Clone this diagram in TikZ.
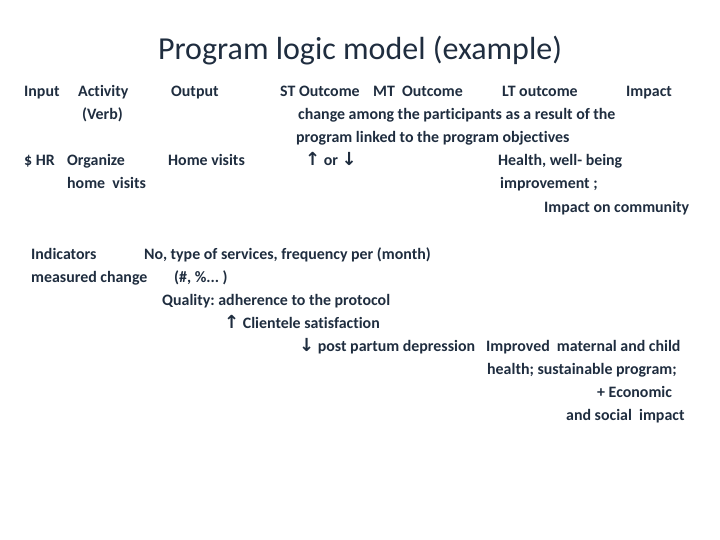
\documentclass[tikz,border=0pt]{standalone}
\usepackage{fontspec}
\setmainfont{Carlito}[Ligatures={NoCommon}]
\newfontfamily\arrowfont{DejaVu Sans}
\definecolor{ink}{HTML}{1F2D3F}
\newcommand{\upar}{{\arrowfont\fontsize{18}{18}\selectfont\bfseries ↑}}
\newcommand{\dnar}{{\arrowfont\fontsize{18}{18}\selectfont\bfseries ↓}}
\frenchspacing
\begin{document}
\begin{tikzpicture}[x=1pt,y=-1pt,
  txt/.style={anchor=base west,inner sep=0pt,text=ink,font=\fontsize{15.9}{18}\selectfont\bfseries\frenchspacing},
  ttl/.style={anchor=base,inner sep=0pt,text=ink,font=\fontsize{32}{38}\selectfont}]
\useasboundingbox (0,0) rectangle (720,540);
\node[ttl] (title) at (360,60) {Program logic model (example)};
% line 1
\node[txt] (input) at (24,97) {Input};
\node[txt] (activity) at (78,97) {Activity};
\node[txt] (output) at (171,97) {Output};
\node[txt] (st) at (280,97) {ST Outcome};
\node[txt] (mt) at (373,97) {MT\ \ Outcome};
\node[txt] (lt) at (502,97) {LT outcome};
\node[txt] (impact) at (626,97) {Impact};
% line 2-3
\node[txt] (verb) at (82,120) {(Verb)};
\node[txt] (chg1) at (298,120) {change among the participants as a result of the};
\node[txt] (chg2) at (296,143) {program linked to the program objectives};
% line 4-6
\node[txt] (hr) at (24,166) {\$ HR};
\node[txt] (org) at (67,166) {Organize};
\node[txt] (hv) at (168,166) {Home visits};
\node[txt] (updn) at (305,166) {\upar{} or \dnar};
\node[txt] (health) at (498,166) {Health, well- being};
\node[txt] (hv2) at (67,189) {home\ \ visits};
\node[txt] (impr) at (500,189) {improvement ;};
\node[txt] (comm) at (544,213) {Impact on community};
% indicators
\node[txt] (ind) at (31,259) {Indicators};
\node[txt] (no) at (144,259) {No, type of services, frequency per (month)};
\node[txt] (meas) at (31,282) {measured change};
\node[txt] (pct) at (174,282) {(\#, \%... )};
\node[txt] (qual) at (162,305) {Quality: adherence to the protocol};
\node[txt] (sat) at (224,328) {\upar{} Clientele satisfaction};
\node[txt] (ppd) at (299,351) {\dnar{} post partum depression};
\node[txt] (imp1) at (486,351) {Improved\ \ maternal and child};
\node[txt] (imp2) at (487,374) {health; sustainable program;};
\node[txt] (eco) at (597,397) {+ Economic};
\node[txt] (soc) at (566,420) {and social\ \ impact};
\end{tikzpicture}
\end{document}
